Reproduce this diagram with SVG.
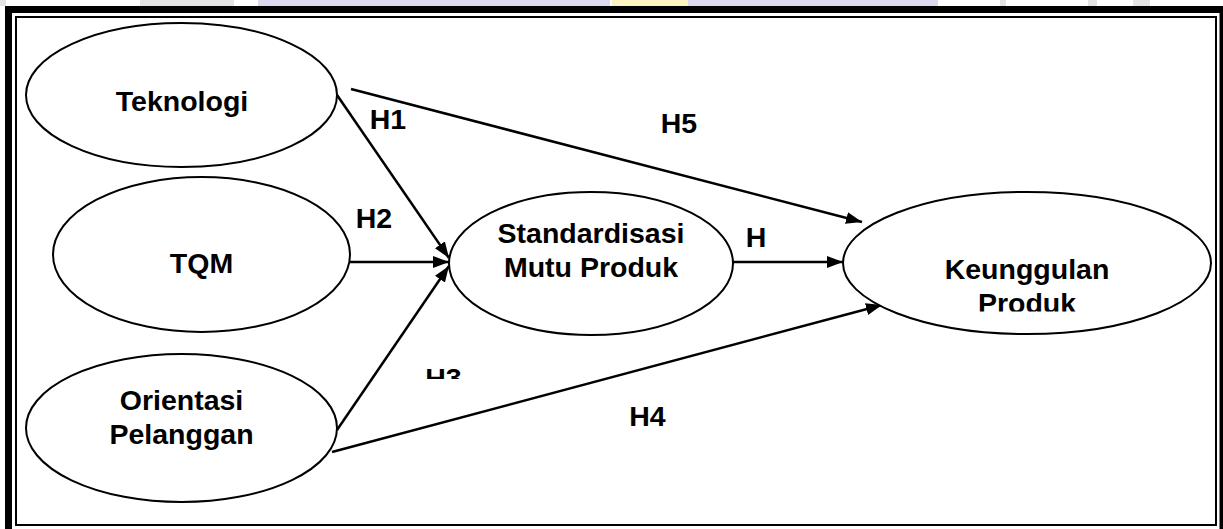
<svg xmlns="http://www.w3.org/2000/svg" width="1223" height="529" viewBox="0 0 1223 529">
  <style>
    .node ellipse { fill: #ffffff; stroke: #000000; stroke-width: 2; }
    .lbl { font-family: "Liberation Sans", Arial, sans-serif; font-weight: bold; font-size: 28.5px; fill: #000000; text-anchor: middle; }
    .edge { stroke: #000000; stroke-width: 2.5; fill: none; marker-end: url(#arrow); }
    .frame-outer { fill: none; stroke: #000000; stroke-width: 7; }
    .frame-inner { fill: none; stroke: #000000; stroke-width: 2; }
  </style>
  <defs>
    <marker id="arrow" markerUnits="userSpaceOnUse" markerWidth="18" markerHeight="14" refX="16" refY="6" orient="auto">
      <path d="M0,0 L16,6 L0,12 z" fill="#000000"/>
    </marker>
    <clipPath id="clipProduk"><rect x="840" y="280" width="380" height="31.5"/></clipPath>
    <clipPath id="clipH3"><rect x="400" y="340" width="100" height="39"/></clipPath>
    <clipPath id="clip6"><rect x="740" y="250" width="40" height="12.5"/></clipPath>
  </defs>

  <rect x="0" y="0" width="1223" height="529" fill="#ffffff"/>
  <g id="watermark">
    <rect x="0" y="0" width="6" height="6" fill="#e4e4e4"/>
    <rect x="140" y="0" width="94" height="6" fill="#e2e2e2"/>
    <rect x="258" y="0" width="352" height="6" fill="#dcd8f0"/>
    <rect x="612" y="0" width="76" height="6" fill="#fbf5c4"/>
    <rect x="688" y="0" width="250" height="6" fill="#dcd8f0"/>
    <rect x="1000" y="0" width="6" height="6" fill="#e4e4e4"/>
    <rect x="1088" y="0" width="9" height="6" fill="#e4e4e4"/>
    <rect x="1133" y="0" width="17" height="6" fill="#e4e4e4"/>
  </g>

  <g id="frame">
    <rect class="frame-outer" x="8.5" y="9.5" width="1214.5" height="530"/>
    <rect class="frame-inner" x="16" y="17" width="1200" height="508"/>
  </g>

  <g id="connectors">
    <line class="edge" x1="337" y1="95" x2="449" y2="258"/>
    <line class="edge" x1="350" y1="262" x2="449" y2="262"/>
    <line class="edge" x1="337" y1="430" x2="449" y2="266"/>
    <line class="edge" x1="351" y1="89" x2="862" y2="222"/>
    <line class="edge" x1="733" y1="262" x2="843" y2="262"/>
    <line class="edge" x1="332" y1="452" x2="882" y2="305"/>
  </g>

  <g id="node-teknologi" class="node">
    <ellipse cx="181.5" cy="95" rx="155.5" ry="72"/>
    <text class="lbl" x="182" y="111">Teknologi</text>
  </g>
  <g id="node-tqm" class="node">
    <ellipse cx="201.5" cy="254.5" rx="148.5" ry="77.5"/>
    <text class="lbl" x="201.5" y="273">TQM</text>
  </g>
  <g id="node-orientasi" class="node">
    <ellipse cx="181.5" cy="428" rx="155.5" ry="74"/>
    <text class="lbl" x="181.5" y="410">Orientasi</text>
    <text class="lbl" x="181.5" y="444">Pelanggan</text>
  </g>
  <g id="node-standardisasi" class="node">
    <ellipse cx="591" cy="263.5" rx="142" ry="71.5"/>
    <text class="lbl" x="591" y="243">Standardisasi</text>
    <text class="lbl" x="591" y="277">Mutu Produk</text>
  </g>
  <g id="node-keunggulan" class="node">
    <ellipse cx="1027" cy="263" rx="184" ry="71"/>
    <text class="lbl" x="1027" y="279">Keunggulan</text>
    <text class="lbl" x="1027" y="313" clip-path="url(#clipProduk)">Produk</text>
  </g>

  <g id="labels">
    <text class="lbl" x="388" y="129">H1</text>
    <text class="lbl" x="374" y="228">H2</text>
    <text class="lbl" x="443.5" y="388" clip-path="url(#clipH3)">H3</text>
    <text class="lbl" x="647.5" y="426">H4</text>
    <text class="lbl" x="679" y="133">H5</text>
    <text class="lbl" x="756" y="247">H</text>
    <text class="lbl" x="756" y="281" clip-path="url(#clip6)">6</text>
  </g>
</svg>
